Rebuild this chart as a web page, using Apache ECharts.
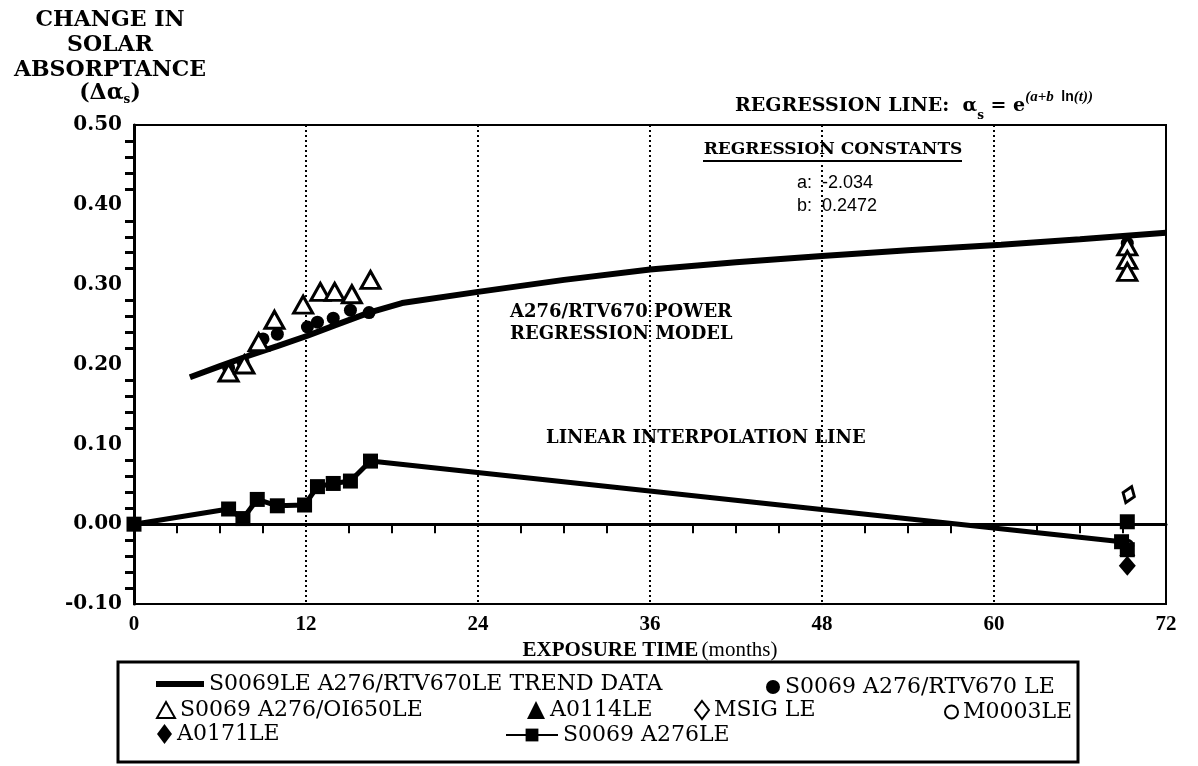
<!DOCTYPE html>
<html>
<head>
<meta charset="utf-8">
<style>
  html, body { margin: 0; padding: 0; background: #fff; }
  #main { width: 1198px; height: 766px; }
</style>
<script src="https://cdn.jsdelivr.net/npm/echarts@6/dist/echarts.min.js"></script>
</head>
<body>
<div id="main"></div>
<script>
// 读图得到的数据
var xTicks = [0, 12, 24, 36, 48, 60, 72];

// S0069LE A276/RTV670LE TREND DATA (power regression model)
var trendTime  = [3.9, 6, 8, 10, 12.1, 14, 16.4, 18.7, 24, 30, 36, 42, 48, 54, 60.5, 66, 72];
var trendValue = [0.184, 0.198, 0.211, 0.223, 0.236, 0.249, 0.265, 0.277, 0.291, 0.306, 0.319, 0.328, 0.336, 0.343, 0.350, 0.357, 0.365];

// S0069 A276/RTV670 LE
var rtvTime  = [6.6, 7.6, 9, 10, 12.1, 12.8, 13.9, 15.1, 16.4, 69.3];
var rtvValue = [0.196, 0.203, 0.232, 0.238, 0.247, 0.253, 0.258, 0.268, 0.265, 0.352];

// S0069 A276/OI650LE
var oiTime  = [6.6, 7.7, 8.7, 9.8, 11.8, 13.0, 14.0, 15.2, 16.5, 69.3, 69.3, 69.3];
var oiValue = [0.19, 0.2, 0.228, 0.256, 0.275, 0.291, 0.291, 0.288, 0.306, 0.348, 0.331, 0.316];

var a0114Time = [69.3];   var a0114Value = [-0.03];
var msigTime  = [69.4];   var msigValue  = [0.037];
var m0003Time = [69.3];   var m0003Value = [-0.027];
var a0171Time = [69.3];   var a0171Value = [-0.052];

// S0069 A276LE (linear interpolation)
var a276Time  = [0, 6.6, 7.6, 8.6, 10, 11.9, 12.8, 13.9, 15.1, 16.5, 68.9, 69.3, 69.3, 69.3];
var a276Value = [0, 0.019, 0.007, 0.031, 0.023, 0.024, 0.047, 0.051, 0.054, 0.079, -0.022, -0.032, null, 0.003];

function pairs(t, v) {
    return t.map(function (x, i) { return v[i] === null ? [x, '-'] : [x, v[i]]; });
}

var myChart = echarts.init(document.getElementById('main'));

var legendText = { fontFamily: 'DejaVu Serif', fontSize: 22, color: '#000' };
var openSym = { color: '#fff', borderColor: '#000', borderWidth: 3, opacity: 1 };
var solid = { color: '#000', opacity: 1 };

var option = {
    backgroundColor: '#fff',
    animation: false,
    grid: { left: 134, right: 32, top: 125, bottom: 162, show: true, borderColor: '#000', borderWidth: 2 },
    xAxis: {
        type: 'value', min: 0, max: 72, interval: 12,
        axisLine: { lineStyle: { color: '#000', width: 3 } },
        axisTick: { show: false },
        minorTick: { show: true, splitNumber: 4, length: 9, lineStyle: { color: '#000', width: 2 } },
        axisLabel: {
            margin: 10, color: '#000',
            fontFamily: 'Liberation Serif', fontWeight: 'bold', fontSize: 21,
            customValues: xTicks
        },
        splitLine: { show: true, lineStyle: { color: '#000', width: 2, type: [2, 3] } },
        name: '{b|EXPOSURE TIME} {n|(months)}',
        nameLocation: 'middle', nameGap: 34,
        nameTextStyle: {
            rich: {
                b: { fontFamily: 'Liberation Serif', fontWeight: 'bold', fontSize: 21, color: '#000' },
                n: { fontFamily: 'Liberation Serif', fontSize: 21, color: '#000' }
            }
        }
    },
    yAxis: {
        type: 'value', min: -0.1, max: 0.5, interval: 0.1,
        axisLine: { show: true, lineStyle: { color: '#000', width: 3 } },
        axisTick: { show: false },
        minorTick: { show: true, splitNumber: 5, length: 9, lineStyle: { color: '#000', width: 3 } },
        axisLabel: {
            margin: 12, color: '#000',
            fontFamily: 'DejaVu Serif', fontWeight: 'bold', fontSize: 20,
            formatter: function (v) { return v.toFixed(2); }
        },
        splitLine: { show: false }
    },
    legend: [
        { data: [{ name: 'S0069LE A276/RTV670LE TREND DATA', icon: 'rect' }], left: 156, top: 673, itemWidth: 48, itemHeight: 6 },
        { data: ['S0069 A276/RTV670 LE'], left: 766, top: 676, itemWidth: 14, itemHeight: 14 },
        { data: ['S0069 A276/OI650LE'], left: 156, top: 699, itemWidth: 18, itemHeight: 16 },
        { data: ['A0114LE'], left: 527, top: 699, itemWidth: 18, itemHeight: 18 },
        { data: ['MSIG LE'], left: 694, top: 699, itemWidth: 14, itemHeight: 18 },
        { data: ['M0003LE'], left: 944, top: 701, itemWidth: 13, itemHeight: 13 },
        { data: ['A0171LE'], left: 157, top: 723, itemWidth: 15, itemHeight: 20 },
        { data: ['S0069 A276LE'], left: 505, top: 724, itemWidth: 52, itemHeight: 16 }
    ].map(function (l) {
        l.padding = 0; l.itemGap = 0; l.textStyle = legendText; l.selectedMode = false;
        return l;
    }),
    graphic: [
        { type: 'text', x: 110, y: 8,
          style: { text: 'CHANGE IN\nSOLAR\nABSORPTANCE', font: 'bold 22px "DejaVu Serif"', fill: '#000',
                   textAlign: 'center', lineHeight: 25 } },
        { type: 'text', x: 110, y: 80,
          style: { text: '{n|(Δα}{s|s}{n|)}', textAlign: 'center', fill: '#000',
                   rich: { n: { font: 'bold 22px "DejaVu Serif"', fill: '#000', lineHeight: 26 },
                           s: { font: 'bold 12px "DejaVu Serif"', fill: '#000', verticalAlign: 'bottom', lineHeight: 22 } } } },
        { type: 'text', x: 735, y: 90,
          style: { text: '{n|REGRESSION LINE:  α}{s|s}{n| = e}{p|(a+b }{l| ln}{p|(t))}', fill: '#000',
                   rich: { n: { font: 'bold 19px "DejaVu Serif"', fill: '#000', lineHeight: 26 },
                           s: { font: 'bold 12px "DejaVu Serif"', fill: '#000', verticalAlign: 'bottom', lineHeight: 22 },
                           p: { font: 'italic bold 15px "Liberation Serif"', fill: '#000', verticalAlign: 'top', lineHeight: 32 },
                           l: { font: 'bold 14px "Liberation Sans"', fill: '#000', verticalAlign: 'top', lineHeight: 32 } } } },
        { type: 'text', x: 833, y: 150,
          style: { text: 'REGRESSION CONSTANTS', font: 'bold 17px "DejaVu Serif"', fill: '#000',
                   textAlign: 'center', textVerticalAlign: 'middle' } },
        { type: 'line', shape: { x1: 703, y1: 161, x2: 962, y2: 161 }, style: { stroke: '#000', lineWidth: 2 } },
        { type: 'text', x: 797, y: 183,
          style: { text: 'a:  -2.034', font: '18px "Liberation Sans"', fill: '#000', textVerticalAlign: 'middle' } },
        { type: 'text', x: 797, y: 206,
          style: { text: 'b:  0.2472', font: '18px "Liberation Sans"', fill: '#000', textVerticalAlign: 'middle' } },
        { type: 'text', x: 510, y: 323,
          style: { text: 'A276/RTV670 POWER\nREGRESSION MODEL', font: 'bold 18px "DejaVu Serif"', fill: '#000',
                   lineHeight: 22, textVerticalAlign: 'middle' } },
        { type: 'text', x: 546, y: 438,
          style: { text: 'LINEAR INTERPOLATION LINE', font: 'bold 18px "DejaVu Serif"', fill: '#000', textVerticalAlign: 'middle' } },
        { type: 'rect', shape: { x: 118, y: 662, width: 960, height: 100 },
          style: { fill: 'none', stroke: '#000', lineWidth: 3 }, z: 10 }
    ],
    series: [
        { name: 'S0069LE A276/RTV670LE TREND DATA', type: 'line', data: pairs(trendTime, trendValue),
          symbol: 'none', lineStyle: { color: '#000', width: 6 }, itemStyle: solid, z: 2 },
        { name: 'S0069 A276/RTV670 LE', type: 'scatter', data: pairs(rtvTime, rtvValue),
          symbol: 'circle', symbolSize: 13, itemStyle: solid, z: 3 },
        { name: 'S0069 A276/OI650LE', type: 'scatter', data: pairs(oiTime, oiValue),
          symbol: 'triangle', symbolSize: [19, 17], itemStyle: openSym, z: 4 },
        { name: 'A0114LE', type: 'scatter', data: pairs(a0114Time, a0114Value),
          symbol: 'triangle', symbolSize: [16, 16], itemStyle: solid, z: 3 },
        { name: 'MSIG LE', type: 'scatter', data: pairs(msigTime, msigValue),
          symbol: 'diamond', symbolSize: [12, 17], symbolRotate: -20, itemStyle: openSym, z: 4 },
        { name: 'M0003LE', type: 'scatter', data: pairs(m0003Time, m0003Value),
          symbol: 'circle', symbolSize: 11, itemStyle: { color: '#fff', borderColor: '#000', borderWidth: 3, opacity: 1 }, z: 3 },
        { name: 'A0171LE', type: 'scatter', data: pairs(a0171Time, a0171Value),
          symbol: 'diamond', symbolSize: [17, 20], itemStyle: solid, z: 3 },
        { name: 'S0069 A276LE', type: 'line', data: pairs(a276Time, a276Value),
          symbol: 'rect', symbolSize: 15, showAllSymbol: true, connectNulls: false,
          lineStyle: { color: '#000', width: 5 }, itemStyle: solid, z: 5,
          markLine: {
              silent: true, symbol: 'none', label: { show: false },
              lineStyle: { color: '#000', width: 2, type: 'solid' },
              data: [{ yAxis: 0 }]
          } }
    ]
};

myChart.setOption(option);
window.onresize = myChart.resize;
</script>
</body>
</html>
